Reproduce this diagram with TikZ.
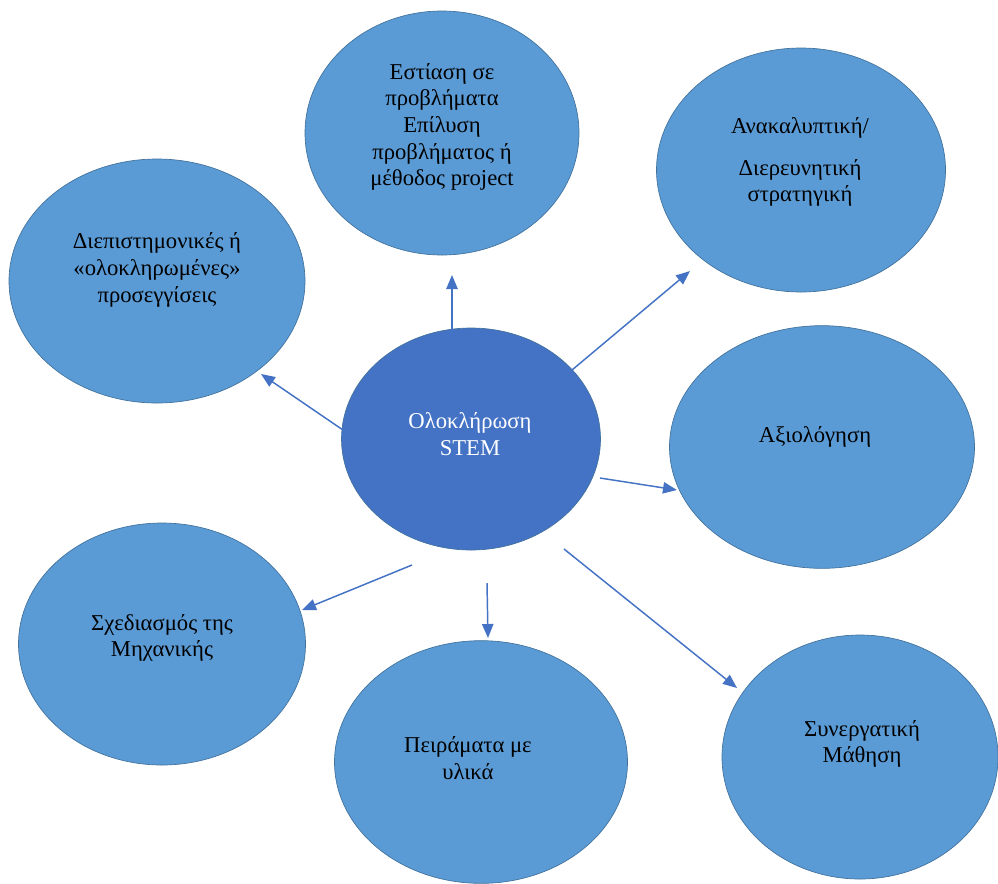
\documentclass[tikz,border=0pt]{standalone}
\usepackage{fontspec}
\setmainfont{Liberation Serif}
\usepackage{xcolor}
\usetikzlibrary{arrows.meta,shapes.geometric}

\definecolor{bubblefill}{HTML}{5B9BD5}
\definecolor{bubblerim}{HTML}{41719C}
\definecolor{stemfill}{HTML}{4472C4}
\definecolor{linkblue}{HTML}{4472C4}

\begin{document}
\begin{tikzpicture}[x=0.75pt,y=-0.75pt,
  bubble/.style={ellipse,fill=bubblefill,draw=bubblerim,line width=0.5pt,inner sep=0pt,minimum height=183pt},
  txt/.style={align=center,font=\fontsize{17}{20}\selectfont},
  link/.style={draw=linkblue,line width=1.1pt,-{Triangle[length=10.5pt,width=8.5pt]}}]
\useasboundingbox (0,0) rectangle (998,883);

% bubbles
\node[bubble,minimum width=205.5pt] (focus) at (442,133) {};
\node[bubble,minimum width=216.75pt] (inquiry) at (801,170) {};
\node[bubble,minimum width=222pt] (interdisc) at (157,281) {};
\node[bubble,minimum width=228.75pt,minimum height=182pt] (assess) at (822,447) {};
\node[bubble,minimum width=215.25pt,minimum height=181.5pt] (design) at (162,644) {};
\node[bubble,minimum width=219.75pt,minimum height=182pt] (experiments) at (481,762) {};
\node[bubble,minimum width=207pt] (collab) at (860,757) {};
\node[bubble,fill=stemfill,minimum width=194.25pt,minimum height=166.5pt] (stem) at (471,439) {};

% texts
\node[txt] (focustxt) at (442,127) {Εστίαση σε\\προβλήματα\\Επίλυση\\προβλήματος ή\\μέθοδος project};
\node[txt] (inquirytxt) at (800,162) {Ανακαλυπτική/\\[11.5pt]Διερευνητική\\στρατηγική};
\node[txt] (interdisctxt) at (157,270) {Διεπιστημονικές ή\\«ολοκληρωμένες»\\προσεγγίσεις};
\node[txt] (assesstxt) at (815,437) {Αξιολόγηση};
\node[txt] (designtxt) at (162,638) {Σχεδιασμός της\\Μηχανικής};
\node[txt] (experimentstxt) at (468,758) {Πειράματα με\\υλικά};
\node[txt] (collabtxt) at (862,744) {Συνεργατική\\Μάθηση};
\node[txt,text=white] (stemtxt) at (470,434) {Ολοκλήρωση\\STEM};

% arrow ends
\coordinate (a1) at (452,335); \coordinate (b1) at (452,275);
\coordinate (a2) at (572,370); \coordinate (b2) at (690,271);
\coordinate (a3) at (343,430); \coordinate (b3) at (261,374);
\coordinate (a4) at (600,478); \coordinate (b4) at (677,490);
\coordinate (a5) at (412,565); \coordinate (b5) at (302,610);
\coordinate (a6) at (487,583); \coordinate (b6) at (488,638);
\coordinate (a7) at (564,549); \coordinate (b7) at (737,688);

% arrows
\draw[link] (a1) -- (b1);
\draw[link] (a2) -- (b2);
\draw[link] (a3) -- (b3);
\draw[link] (a4) -- (b4);
\draw[link] (a5) -- (b5);
\draw[link] (a6) -- (b6);
\draw[link] (a7) -- (b7);
\end{tikzpicture}
\end{document}
